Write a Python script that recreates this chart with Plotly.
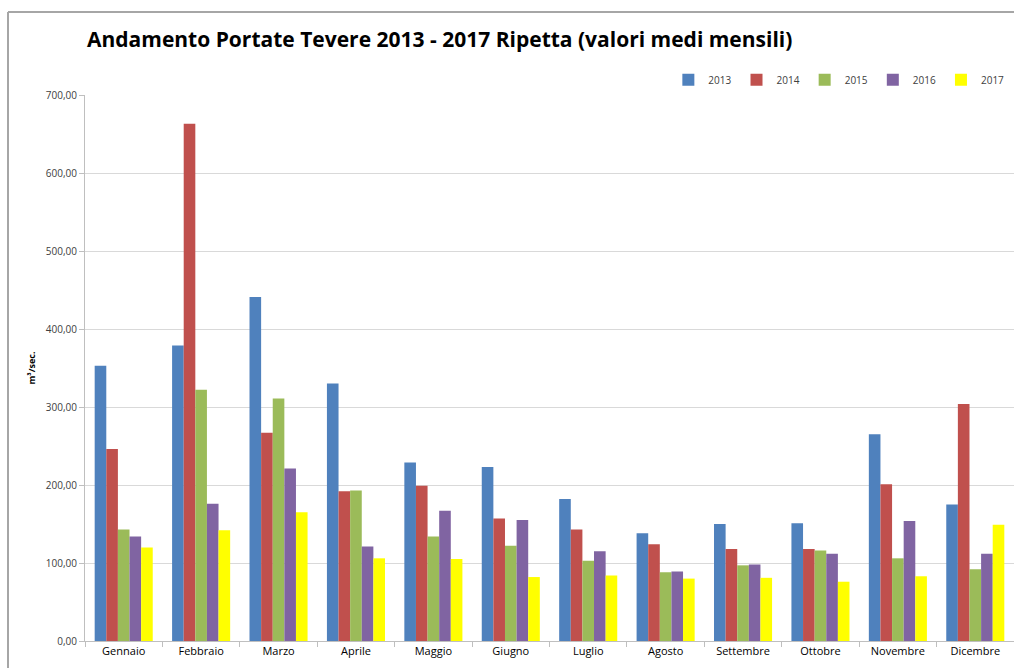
import plotly.graph_objects as go

# Monthly mean discharge of the Tiber at Ripetta (m³/s)
mesi = ["Gennaio", "Febbraio", "Marzo", "Aprile", "Maggio", "Giugno",
        "Luglio", "Agosto", "Settembre", "Ottobre", "Novembre", "Dicembre"]

anni = ["2013", "2014", "2015", "2016", "2017"]

portate_2013 = [353, 379, 441, 330, 229, 223, 182, 138, 150, 151, 265, 175]
portate_2014 = [246, 663, 267, 192, 199, 157, 143, 124, 118, 118, 201, 304]
portate_2015 = [143, 322, 311, 193, 134, 122, 103, 88, 97, 116, 106, 92]
portate_2016 = [134, 176, 221, 121, 167, 155, 115, 89, 98, 112, 154, 112]
portate_2017 = [120, 142, 165, 106, 105, 82, 84, 80, 81, 76, 83, 149]

serie = [portate_2013, portate_2014, portate_2015, portate_2016, portate_2017]
colori = ["#4F81BD", "#C0504D", "#9BBB59", "#8064A2", "#FFFF00"]

fig = go.Figure()
for anno, valori, colore in zip(anni, serie, colori):
    fig.add_trace(go.Bar(name=anno, x=mesi, y=valori,
                         marker=dict(color=colore, line=dict(width=0))))

fig.update_layout(
    width=1014, height=668,
    margin=dict(l=85, r=0, t=95, b=27, autoexpand=False),
    paper_bgcolor="white", plot_bgcolor="white",
    separators=",.",
    barmode="group", bargap=0.25, bargroupgap=0,
    font=dict(family="Open Sans, sans-serif", size=11, color="#404040"),
    title=dict(text="<b>Andamento Portate Tevere 2013 - 2017 Ripetta (valori medi mensili)</b>",
               font=dict(family="Open Sans, sans-serif", size=21, color="#000000"),
               x=87 / 1014, xanchor="left", y=1 - 40 / 668, yanchor="middle"),
    legend=dict(orientation="h", x=0.995, xanchor="right", y=1.028, yanchor="middle",
                font=dict(size=10, color="#404040"), itemwidth=30,
                bgcolor="rgba(0,0,0,0)"),
    showlegend=True,
)

fig.update_yaxes(range=[0, 700], dtick=100, tickformat=".2f",
                 showgrid=True, gridcolor="#D9D9D9", gridwidth=1,
                 showline=True, linecolor="#BFBFBF", linewidth=1,
                 ticks="outside", ticklen=5, tickcolor="#BFBFBF",
                 tickfont=dict(size=10, color="#404040"),
                 zeroline=False, automargin=False,
                 title=dict(text="<b>m³/sec.</b>", font=dict(size=9, color="#000000"),
                            standoff=8))

fig.update_xaxes(showline=True, linecolor="#BFBFBF", linewidth=1,
                 ticks="outside", ticklen=5, tickcolor="#BFBFBF",
                 tickson="boundaries", showgrid=False, automargin=False,
                 tickfont=dict(size=11, color="#000000"))

# outer frame of the chart area
fig.add_shape(type="line", xref="paper", yref="paper",
              x0=-77 / 929, x1=1.0, y0=1 + 83 / 546, y1=1 + 83 / 546,
              line=dict(color="#A6A6A6", width=2))
fig.add_shape(type="line", xref="paper", yref="paper",
              x0=-77 / 929, x1=-77 / 929, y0=1 + 83 / 546, y1=-27 / 546,
              line=dict(color="#A6A6A6", width=2))

fig.write_html("out.html")
